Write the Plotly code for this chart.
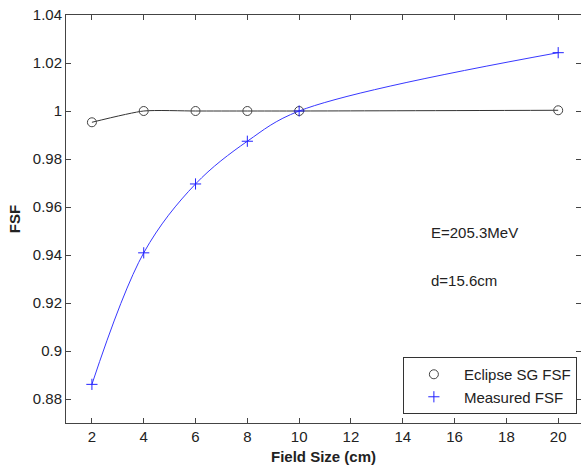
import plotly.graph_objects as go

field_size = [2, 4, 6, 8, 10, 20]
eclipse_fsf = [0.9953, 1.0000, 1.0000, 1.0000, 1.0000, 1.0003]
measured_fsf = [0.8861, 0.9409, 0.9696, 0.9874, 1.0000, 1.0243]
x_ticks = [2, 4, 6, 8, 10, 12, 14, 16, 18, 20]
y_ticks = [0.88, 0.90, 0.92, 0.94, 0.96, 0.98, 1.00, 1.02, 1.04]
y_tick_text = ["0.88", "0.9", "0.92", "0.94", "0.96", "0.98", "1", "1.02", "1.04"]

FONT = "Liberation Sans, Arial, sans-serif"
AX = "#444444"

fig = go.Figure()
# smooth lines
fig.add_trace(go.Scatter(x=field_size, y=eclipse_fsf, mode="lines",
                         line=dict(color="#333333", width=1, shape="spline", smoothing=0.6),
                         showlegend=False, hoverinfo="skip"))
fig.add_trace(go.Scatter(x=field_size, y=measured_fsf, mode="lines",
                         line=dict(color="#3838ff", width=1, shape="spline", smoothing=1.0),
                         showlegend=False, hoverinfo="skip"))
# markers
fig.add_trace(go.Scatter(x=field_size, y=eclipse_fsf, mode="markers", name="Eclipse SG FSF",
                         marker=dict(symbol="circle-open", size=9, color="#444444",
                                     line=dict(width=1, color="#444444"))))
fig.add_trace(go.Scatter(x=field_size, y=measured_fsf, mode="markers", name="Measured FSF",
                         marker=dict(symbol="cross-thin", size=8,
                                     line=dict(width=1, color="#2222ff"))))

fig.add_annotation(x=15.0, y=0.9495, xref="x", yref="y", text="E=205.3MeV",
                   showarrow=False, xanchor="left", yanchor="middle",
                   font=dict(family=FONT, size=15, color="#222222"))
fig.add_annotation(x=15.0, y=0.9295, xref="x", yref="y", text="d=15.6cm",
                   showarrow=False, xanchor="left", yanchor="middle",
                   font=dict(family=FONT, size=15, color="#222222"))

fig.update_layout(
    width=581, height=468,
    margin=dict(l=66, r=0, t=15, b=45),
    paper_bgcolor="white", plot_bgcolor="white",
    font=dict(family=FONT, size=15, color="#222222"),
    legend=dict(x=0.992, y=0.022, xanchor="right", yanchor="bottom",
                bgcolor="white", bordercolor="#333333", borderwidth=1,
                font=dict(family=FONT, size=15, color="#222222"),
                itemwidth=50, tracegroupgap=0),
    xaxis=dict(range=[1, 20.88], tickvals=x_ticks, ticks="inside", ticklen=5,
               tickcolor=AX, showline=True, linecolor=AX, linewidth=1, mirror="ticks",
               showgrid=False, zeroline=False,
               title=dict(text="<b>Field Size (cm)</b>", font=dict(size=15), standoff=7)),
    yaxis=dict(range=[0.87, 1.04], tickvals=y_ticks, ticktext=y_tick_text,
               ticks="inside", ticklen=5, tickcolor=AX, showline=True, linecolor=AX,
               linewidth=1, mirror="ticks", showgrid=False, zeroline=False,
               title=dict(text="<b>FSF</b>", font=dict(size=15), standoff=8)),
)

fig.write_html("out.html")
